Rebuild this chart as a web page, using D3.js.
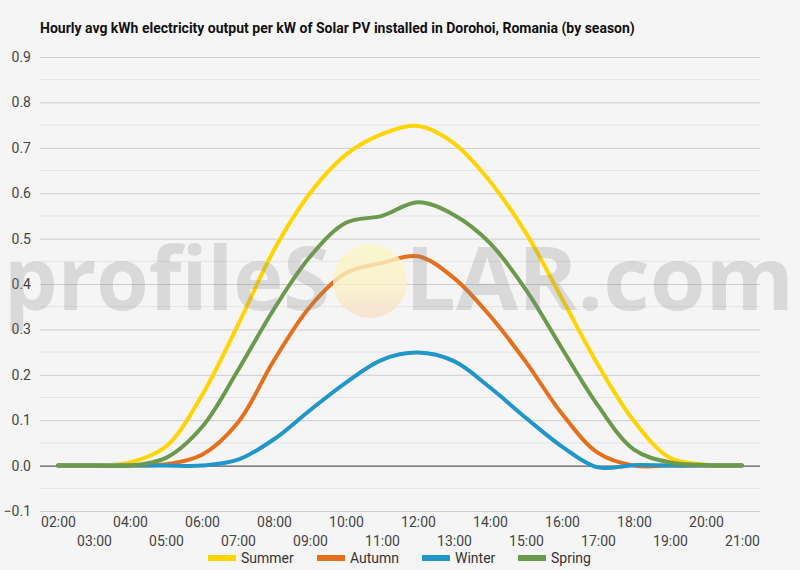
<!DOCTYPE html>
<html>
<head>
<meta charset="utf-8">
<script src="https://cdn.jsdelivr.net/npm/d3@7"></script>
<style>
  html, body { margin: 0; padding: 0; background: #f5f5f5; }
  svg { display: block; font-family: Roboto, "Noto Sans", sans-serif; }
</style>
</head>
<body>
<svg id="chart" width="800" height="570"></svg>
<script>
// hourly averages
const hours = ['02:00', '03:00', '04:00', '05:00', '06:00', '07:00', '08:00', '09:00', '10:00', '11:00',
               '12:00', '13:00', '14:00', '15:00', '16:00', '17:00', '18:00', '19:00', '20:00', '21:00'];
const summer = [0, 0, 0.007, 0.042, 0.155, 0.31, 0.475, 0.60, 0.685, 0.73, 0.748, 0.71, 0.626, 0.512, 0.368, 0.222, 0.098, 0.017, 0.002, 0];
const autumn = [0, 0, 0, 0.003, 0.024, 0.095, 0.232, 0.35, 0.424, 0.446, 0.461, 0.413, 0.33, 0.228, 0.114, 0.028, 0, 0, 0, 0];
const winter = [0, 0, 0, 0, 0, 0.013, 0.058, 0.122, 0.183, 0.233, 0.249, 0.23, 0.172, 0.105, 0.042, -0.004, 0.001, 0, 0, 0];
const spring = [0, 0, 0, 0.017, 0.085, 0.21, 0.345, 0.46, 0.535, 0.55, 0.58, 0.552, 0.49, 0.387, 0.258, 0.132, 0.035, 0.007, 0.001, 0];
const seasons = ['Summer', 'Autumn', 'Winter', 'Spring'];
const seasonColors = ['#ffd400', '#e5701c', '#2196c8', '#6a9a4c'];
const yTicks = [-0.1, 0, 0.1, 0.2, 0.3, 0.4, 0.5, 0.6, 0.7, 0.8, 0.9];

const series = [summer, autumn, winter, spring];

const svg = d3.select('#chart');
const W = 800, H = 570;
const M = { left: 40, right: 40, top: 57, bottom: 59 };

svg.append('rect').attr('width', W).attr('height', H).attr('fill', '#f5f5f5');

const x = d3.scalePoint().domain(hours).range([M.left, W - M.right]).padding(0.5);
const y = d3.scaleLinear().domain([-0.1, 0.9]).range([H - M.bottom, M.top]);

// title
svg.append('text')
  .attr('x', 40).attr('y', 33)
  .attr('font-size', 14).attr('font-weight', 'bold').attr('fill', '#111')
  .text('Hourly avg kWh electricity output per kW of Solar PV installed in Dorohoi, Romania (by season)');

// minor gridlines (halfway)
const minor = yTicks.slice(0, -1).map(t => t + 0.05);
svg.append('g').selectAll('line').data(minor).join('line')
  .attr('x1', M.left).attr('x2', W - M.right)
  .attr('y1', d => y(d)).attr('y2', d => y(d))
  .attr('stroke', '#e4e4e4').attr('stroke-width', 1);

// major gridlines + y labels
const yAxis = svg.append('g')
  .attr('transform', `translate(${M.left},0)`)
  .call(d3.axisLeft(y).tickValues(yTicks).tickFormat(d3.format('.1f')).tickSize(-(W - M.left - M.right)).tickPadding(9));
yAxis.select('.domain').remove();
yAxis.selectAll('.tick line')
  .attr('stroke', d => Math.abs(d) < 1e-9 ? '#333' : '#cccccc')
  .attr('stroke-width', 1);
yAxis.selectAll('.tick text')
  .attr('font-size', 14).attr('fill', '#444').attr('font-family', 'Roboto, sans-serif');
// zero line on top of the light gridlines
yAxis.selectAll('.tick').filter(d => Math.abs(d) < 1e-9).raise();

// x labels, alternating rows
const xAxis = svg.append('g')
  .attr('transform', `translate(0,${H - M.bottom})`)
  .call(d3.axisBottom(x).tickSize(0).tickPadding(0));
xAxis.select('.domain').remove();
xAxis.selectAll('.tick text')
  .attr('font-size', 14).attr('fill', '#444').attr('font-family', 'Roboto, sans-serif')
  .attr('dy', 0)
  .attr('y', (d, i) => i % 2 === 0 ? 16 : 35);

// lines
const line = d3.line()
  .x((d, i) => x(hours[i]))
  .y(d => y(d))
  .curve(d3.curveCatmullRom.alpha(0.5));

svg.append('g').selectAll('path').data(series).join('path')
  .attr('d', line)
  .attr('fill', 'none')
  .attr('stroke', (d, i) => seasonColors[i])
  .attr('stroke-width', 4)
  .attr('stroke-linejoin', 'round')
  .attr('stroke-linecap', 'round');

// watermark
const defs = svg.append('defs');
const grad = defs.append('linearGradient').attr('id', 'sun').attr('x1', 0).attr('y1', 0).attr('x2', 0).attr('y2', 1);
grad.append('stop').attr('offset', '0%').attr('stop-color', '#fbf7c4');
grad.append('stop').attr('offset', '60%').attr('stop-color', '#faf0c6');
grad.append('stop').attr('offset', '100%').attr('stop-color', '#f7dfcb');

const wm = svg.append('g').attr('pointer-events', 'none');
wm.append('circle')
  .attr('cx', 370).attr('cy', 281).attr('r', 37)
  .attr('fill', 'url(#sun)').attr('opacity', 0.8);
wm.append('text')
  .attr('x', 4).attr('y', 310)
  .attr('textLength', 326).attr('lengthAdjust', 'spacingAndGlyphs')
  .attr('font-size', 88).attr('font-weight', 'bold').attr('font-family', '"Open Sans", Lato, sans-serif')
  .attr('fill', '#888').attr('opacity', 0.25)
  .text('profileS');
wm.append('text')
  .attr('x', 405).attr('y', 310)
  .attr('textLength', 389).attr('lengthAdjust', 'spacingAndGlyphs')
  .attr('font-size', 88).attr('font-weight', 'bold').attr('font-family', '"Open Sans", Lato, sans-serif')
  .attr('fill', '#888').attr('opacity', 0.25)
  .text('LAR.com');

// legend
const legendX = [208, 317, 422, 518];
const legend = svg.append('g').selectAll('g').data(seasons).join('g')
  .attr('transform', (d, i) => `translate(${legendX[i]},558)`);
legend.append('line')
  .attr('x1', 0).attr('x2', 28).attr('y1', 0).attr('y2', 0)
  .attr('stroke', (d, i) => seasonColors[i]).attr('stroke-width', 6);
legend.append('text')
  .attr('x', 33).attr('y', 5)
  .attr('font-size', 14).attr('fill', '#333')
  .text(d => d);
</script>
</body>
</html>
